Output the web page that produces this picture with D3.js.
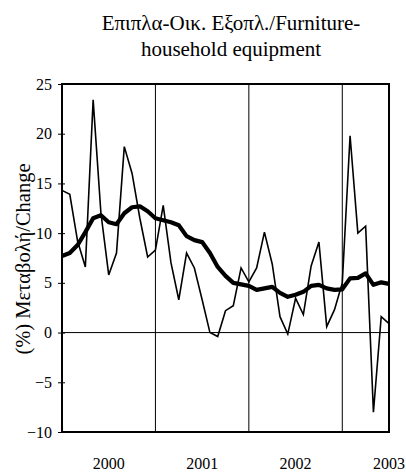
<!DOCTYPE html>
<html><head><meta charset="utf-8">
<script src="https://cdn.jsdelivr.net/npm/d3@7"></script>
<style>body{margin:0;background:#fff}svg{display:block}text{font-family:"Liberation Serif","Times New Roman",serif;fill:#000}</style>
</head><body><svg id="c" width="406" height="472"></svg>
<script>
const months = [];
for (let y = 2000; y <= 2003; y++) for (let m = 1; m <= 12; m++) { if (y === 2003 && m > 7) break; months.push(y + "-" + String(m).padStart(2, "0")); }
const monthly = [14.3,13.9,9.2,6.6,23.4,12.0,5.8,8.0,18.7,16.0,11.5,7.6,
  8.3,12.8,7.0,3.3,8.0,6.5,3.3,0.0,-0.4,2.2,2.7,6.5,
  5.1,6.5,10.1,6.9,1.6,-0.15,3.45,1.8,6.7,9.1,0.6,2.3,
  5.0,19.8,10.0,10.7,-8.0,1.6,0.9];
const trend = [7.7,8.0,8.8,10.1,11.5,11.8,11.1,10.9,12.0,12.6,12.7,12.2,
  11.5,11.3,11.1,10.8,9.7,9.3,9.1,8.0,6.6,5.7,5.0,4.85,
  4.7,4.3,4.45,4.6,4.0,3.6,3.8,4.1,4.7,4.8,4.45,4.3,
  4.35,5.45,5.5,5.95,4.8,5.05,4.9];
const yTicks = [-10,-5,0,5,10,15,20,25];
const yearBreaks = ["2001-01","2002-01","2003-01"];
const yearLabels = [["2000-07","2000"],["2001-07","2001"],["2002-07","2002"],["2003-07","2003"]];
const titleLines = ["Επιπλα-Οικ. Εξοπλ./Furniture-","household equipment"];
const yTitle = "(%) Μεταβολή/Change";

const svg = d3.select("#c");
const L = 62, R = 389, T = 84, B = 432;
const x = d3.scalePoint().domain(months).range([L, R]);
const y = d3.scaleLinear().domain([-10, 25]).range([B, T]);

// title
svg.append("g").selectAll("text").data(titleLines).join("text")
  .attr("x", 231).attr("y", (d, i) => 30 + i * 26).attr("text-anchor", "middle")
  .attr("font-size", 21).text(d => d);

// y title
svg.append("text").attr("transform", `translate(30,${(T + B) / 2 + 1}) rotate(-90)`)
  .attr("text-anchor", "middle").attr("font-size", 20.5).text(yTitle);

// vertical year lines
svg.append("g").selectAll("line").data(yearBreaks).join("line")
  .attr("x1", d => x(d)).attr("x2", d => x(d)).attr("y1", T).attr("y2", B)
  .attr("stroke", "#000").attr("stroke-width", 1);

// zero line
svg.append("line").attr("x1", L).attr("x2", R).attr("y1", y(0)).attr("y2", y(0))
  .attr("stroke", "#000").attr("stroke-width", 1);

// y axis
const ya = d3.axisLeft(y).tickValues(yTicks).tickSize(4).tickPadding(6).tickFormat(d3.format("d"));
const gy = svg.append("g").attr("transform", `translate(${L},0)`).call(ya);
gy.select(".domain").remove();
gy.selectAll("line").attr("stroke", "#000").attr("x2", -4).attr("x1", 3);
gy.selectAll("text").attr("font-size", 16).attr("font-family", '"Liberation Serif",serif');

// x labels
svg.append("g").selectAll("text").data(yearLabels).join("text")
  .attr("x", d => x(d[0])).attr("y", 469).attr("text-anchor", "middle")
  .attr("font-size", 16).text(d => d[1]);

// lines
const line = d3.line().x((d, i) => x(months[i])).y(d => y(d));
svg.append("path").datum(monthly).attr("d", line).attr("fill", "none")
  .attr("stroke", "#000").attr("stroke-width", 1.6).attr("stroke-linejoin", "miter");
svg.append("path").datum(trend).attr("d", line).attr("fill", "none")
  .attr("stroke", "#000").attr("stroke-width", 4.2).attr("stroke-linejoin", "round");

// frame
svg.append("rect").attr("x", L).attr("y", T).attr("width", R - L).attr("height", B - T)
  .attr("fill", "none").attr("stroke", "#000").attr("stroke-width", 2);
</script></body></html>
